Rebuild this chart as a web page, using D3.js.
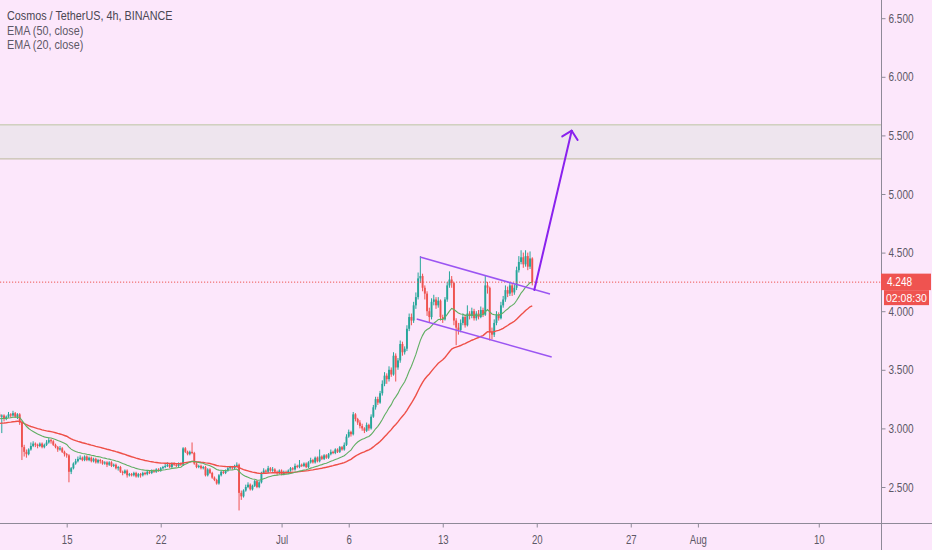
<!DOCTYPE html>
<html><head><meta charset="utf-8">
<script src="https://cdn.jsdelivr.net/npm/d3@7"></script>
<style>
html,body{margin:0;padding:0;background:#fce7fb;overflow:hidden}
svg{display:block}
.lbl{font-family:"Liberation Sans",Arial,sans-serif}
</style></head>
<body>
<script>
// ---------------- DATA ----------------
const title = "Cosmos / TetherUS, 4h, BINANCE";
const legendLabels = ["EMA (50, close)", "EMA (20, close)"];
const firstBarTime = "2020-06-10T00:00:00Z";   // 4h bars
const barHours = 4;
const firstOpen = 3.12;
const closes = [3.10,3.11,3.08,3.10,3.12,3.11,3.13,3.10,3.12,3.05,
2.84,2.80,2.78,2.82,2.85,2.87,2.86,2.85,2.87,2.84,
2.86,2.88,2.90,2.89,2.86,2.84,2.82,2.83,2.80,2.78,
2.77,2.63,2.66,2.70,2.72,2.74,2.75,2.73,2.76,2.73,
2.75,2.72,2.74,2.71,2.73,2.72,2.70,2.71,2.69,2.71,
2.68,2.69,2.66,2.67,2.63,2.62,2.64,2.60,2.61,2.60,
2.62,2.59,2.61,2.60,2.62,2.61,2.63,2.62,2.64,2.63,
2.65,2.64,2.66,2.67,2.68,2.69,2.67,2.70,2.69,2.68,
2.70,2.69,2.83,2.80,2.78,2.80,2.79,2.70,2.67,2.68,
2.66,2.67,2.60,2.65,2.62,2.58,2.56,2.53,2.60,2.63,
2.62,2.64,2.66,2.67,2.66,2.68,2.69,2.45,2.42,2.47,
2.50,2.52,2.48,2.51,2.55,2.50,2.54,2.62,2.64,2.63,
2.66,2.64,2.65,2.63,2.62,2.64,2.61,2.63,2.62,2.64,
2.66,2.65,2.68,2.67,2.69,2.68,2.70,2.67,2.71,2.73,
2.71,2.75,2.72,2.76,2.74,2.77,2.75,2.78,2.80,2.79,
2.82,2.80,2.84,2.82,2.86,2.93,2.97,2.95,3.12,3.08,
3.05,3.02,3.00,2.98,3.03,3.00,3.10,3.18,3.25,3.22,
3.30,3.38,3.45,3.42,3.50,3.46,3.62,3.52,3.58,3.72,
3.65,3.68,3.85,3.95,3.92,4.05,4.12,4.28,4.30,4.20,
4.15,4.00,3.95,4.08,4.10,4.05,4.09,3.95,3.93,4.10,
4.22,4.27,4.24,3.92,3.86,3.84,3.90,3.95,3.88,3.98,
3.96,4.00,3.94,3.98,3.95,4.01,3.97,4.22,4.20,3.82,
3.80,3.90,3.97,3.94,4.05,4.10,4.18,4.15,4.22,4.16,
4.20,4.35,4.42,4.46,4.40,4.47,4.38,4.45,4.248];
const highs = [3.14,3.12,3.12,3.11,3.14,3.13,3.15,3.14,3.13,3.13,
3.06,2.86,2.82,2.83,2.88,2.89,2.88,2.87,2.88,2.88,
2.87,2.90,2.92,2.91,2.90,2.87,2.85,2.85,2.84,2.81,
2.79,2.78,2.67,2.71,2.74,2.76,2.77,2.76,2.77,2.77,
2.76,2.76,2.75,2.75,2.74,2.74,2.73,2.72,2.72,2.72,
2.72,2.70,2.70,2.68,2.68,2.64,2.65,2.65,2.62,2.62,
2.63,2.63,2.62,2.62,2.63,2.63,2.64,2.64,2.65,2.65,
2.66,2.66,2.67,2.68,2.70,2.71,2.70,2.71,2.71,2.70,
2.71,2.71,2.84,2.84,2.81,2.81,2.88,2.80,2.71,2.69,
2.69,2.68,2.68,2.66,2.66,2.63,2.59,2.57,2.61,2.64,
2.64,2.65,2.67,2.68,2.68,2.69,2.71,2.70,2.47,2.48,
2.52,2.54,2.53,2.52,2.56,2.56,2.55,2.63,2.66,2.65,
2.68,2.67,2.67,2.66,2.64,2.65,2.65,2.64,2.64,2.65,
2.67,2.67,2.70,2.69,2.73,2.70,2.71,2.71,2.72,2.75,
2.74,2.76,2.76,2.82,2.77,2.78,2.78,2.79,2.82,2.81,
2.83,2.83,2.85,2.85,2.88,2.95,2.99,2.98,3.14,3.13,
3.09,3.07,3.04,3.01,3.05,3.04,3.12,3.20,3.27,3.27,
3.32,3.41,3.48,3.47,3.53,3.52,3.65,3.64,3.60,3.75,
3.74,3.70,3.88,3.98,3.98,4.08,4.16,4.33,4.47,4.32,
4.22,4.17,4.03,4.11,4.14,4.12,4.12,4.10,3.97,4.12,
4.25,4.34,4.30,4.25,3.94,3.90,3.93,3.98,3.97,4.05,
4.00,4.03,4.02,4.00,4.01,4.04,4.03,4.30,4.25,4.21,
3.86,3.93,4.00,3.99,4.08,4.13,4.22,4.21,4.25,4.24,
4.23,4.38,4.47,4.52,4.50,4.52,4.50,4.51,4.46];
const lows = [3.08,2.96,3.06,3.07,3.09,3.09,3.10,3.09,3.08,3.03,
2.73,2.76,2.75,2.77,2.81,2.84,2.84,2.83,2.84,2.83,
2.83,2.85,2.87,2.87,2.85,2.83,2.80,2.81,2.79,2.76,
2.75,2.54,2.61,2.65,2.69,2.71,2.73,2.72,2.72,2.72,
2.72,2.71,2.71,2.70,2.70,2.70,2.69,2.69,2.67,2.68,
2.67,2.67,2.65,2.64,2.62,2.60,2.61,2.58,2.59,2.59,
2.59,2.58,2.58,2.58,2.59,2.60,2.60,2.61,2.61,2.62,
2.62,2.63,2.63,2.65,2.66,2.67,2.66,2.66,2.68,2.67,
2.67,2.68,2.68,2.79,2.77,2.77,2.78,2.69,2.66,2.66,
2.65,2.65,2.59,2.59,2.61,2.57,2.55,2.52,2.52,2.59,
2.61,2.61,2.63,2.65,2.65,2.65,2.67,2.30,2.39,2.41,
2.46,2.49,2.47,2.47,2.50,2.49,2.49,2.53,2.61,2.62,
2.62,2.63,2.63,2.62,2.60,2.61,2.60,2.60,2.61,2.61,
2.63,2.64,2.64,2.66,2.66,2.67,2.67,2.66,2.66,2.70,
2.70,2.70,2.71,2.71,2.73,2.73,2.74,2.74,2.77,2.78,
2.78,2.79,2.79,2.81,2.81,2.85,2.92,2.93,2.94,3.06,
3.03,3.00,2.98,2.96,2.97,2.98,2.99,3.09,3.16,3.20,
3.21,3.28,3.36,3.38,3.40,3.44,3.45,3.40,3.50,3.56,
3.62,3.63,3.66,3.83,3.88,3.90,4.02,4.10,4.24,4.17,
4.10,3.96,3.90,3.93,4.05,4.02,4.03,3.92,3.90,3.92,
4.08,4.20,4.20,3.88,3.71,3.80,3.82,3.88,3.86,3.87,
3.93,3.94,3.92,3.92,3.93,3.94,3.95,3.96,4.15,3.75,
3.76,3.78,3.88,3.92,3.93,4.03,4.08,4.12,4.13,4.13,
4.14,4.18,4.33,4.40,4.37,4.38,4.35,4.36,4.22];
const emaSeeds = {50: 3.04, 20: 3.08};
const priceTicks = [2.5,3.0,3.5,4.0,4.5,5.0,5.5,6.0,6.5];
const dateTicks = ["2020-06-15","2020-06-22","2020-07-01","2020-07-06","2020-07-13","2020-07-20","2020-07-27","2020-08-01","2020-08-10"];
const dateTickLabels = ["15","22","Jul","6","13","20","27","Aug","10"];
const timeDomain = ["2020-06-10T00:48:00Z","2020-08-14T15:12:00Z"];
const priceDomain = [2.5, 6.5];
const zonePrices = [5.30, 5.59];
const channelUpper = [["2020-07-11T07:22:00Z",4.462],["2020-07-20T23:41:00Z",4.147]];
const channelLower = [["2020-07-11T01:28:00Z",3.933],["2020-07-21T02:43:00Z",3.609]];
const arrowPts = [["2020-07-19T19:38:00Z",4.181],["2020-07-22T14:27:00Z",5.540]];
const lastPrice = 4.248;
const countdown = "02:08:30";

// ---------------- CHART ----------------
const W = 932, H = 550, plotR = 881, plotB = 523;
const svg = d3.select("body").append("svg").attr("width",W).attr("height",H);
svg.append("rect").attr("width",W).attr("height",H).attr("fill","#fce7fb");

const x = d3.scaleUtc().domain(timeDomain.map(d=>new Date(d))).range([0, plotR]);
const y = d3.scaleLinear().domain(priceDomain).range([487, 18.2]);

const t0 = new Date(firstBarTime).getTime();
const bars = closes.map((c,i)=>({
  t: new Date(t0 + i*barHours*3600e3),
  o: i===0 ? firstOpen : closes[i-1], c, h: highs[i], l: lows[i]
}));

function ema(vals, p, seed){ const k = 2/(p+1); let prev = seed; return vals.map(v => prev = v*k + prev*(1-k)); }
const ema50 = ema(closes, 50, emaSeeds[50]);
const ema20 = ema(closes, 20, emaSeeds[20]);

// horizontal condensing of text (reference font is narrow)
function squeeze(sel, f){ sel.each(function(){ const L = this.getComputedTextLength(); if (L>0){ this.setAttribute("textLength", (L*f).toFixed(2)); this.setAttribute("lengthAdjust","spacingAndGlyphs"); } }); }

svg.append("clipPath").attr("id","plot").append("rect").attr("x",0).attr("y",0).attr("width",plotR).attr("height",plotB);
const g = svg.append("g").attr("clip-path","url(#plot)");

// zone
g.append("rect").attr("x",0).attr("width",plotR)
  .attr("y", y(zonePrices[1])).attr("height", y(zonePrices[0]) - y(zonePrices[1]))
  .attr("fill","#eee5ee").attr("stroke","none");
g.append("line").attr("x1",0).attr("x2",plotR).attr("y1",y(zonePrices[1])).attr("y2",y(zonePrices[1]))
  .attr("stroke","#bcc6a2").attr("stroke-width",1);
g.append("line").attr("x1",0).attr("x2",plotR).attr("y1",y(zonePrices[0])).attr("y2",y(zonePrices[0]))
  .attr("stroke","#c6c1ad").attr("stroke-width",1.2);

// candles
const up = "#26a69a", dn = "#ef5350";
const cg = g.append("g");
cg.selectAll("line.w").data(bars).join("line").attr("class","w")
  .attr("x1",d=>x(d.t)).attr("x2",d=>x(d.t)).attr("y1",d=>y(d.h)).attr("y2",d=>y(d.l))
  .attr("stroke",d=>d.c>=d.o?up:dn).attr("stroke-width",1);
cg.selectAll("rect.b").data(bars).join("rect").attr("class","b")
  .attr("x",d=>x(d.t)-0.95).attr("width",1.9)
  .attr("y",d=>y(Math.max(d.o,d.c))).attr("height",d=>Math.max(1, Math.abs(y(d.o)-y(d.c))))
  .attr("fill",d=>d.c>=d.o?up:dn);

// EMAs
const lineGen = arr => d3.line().x((d,i)=>x(bars[i].t)).y(d=>y(d))(arr);
g.append("path").attr("d",lineGen(ema50)).attr("fill","none").attr("stroke","#ee4f47").attr("stroke-width",1.4);
g.append("path").attr("d",lineGen(ema20)).attr("fill","none").attr("stroke","#5fae62").attr("stroke-width",1.1);

// current price line
g.append("line").attr("x1",0).attr("x2",plotR).attr("y1",y(lastPrice)).attr("y2",y(lastPrice))
  .attr("stroke","#ef5350").attr("stroke-width",1).attr("stroke-dasharray","1.2,1.8");

// channel
const pt = d => [x(new Date(d[0])), y(d[1])];
[channelUpper, channelLower].forEach(seg=>{
  const a = pt(seg[0]), b = pt(seg[1]);
  g.append("line").attr("x1",a[0]).attr("y1",a[1]).attr("x2",b[0]).attr("y2",b[1])
    .attr("stroke","#9b55f2").attr("stroke-width",1.5);
});
// arrow
{
  const a = pt(arrowPts[0]), b = pt(arrowPts[1]);
  const col = "#8a22ee";
  g.append("line").attr("x1",a[0]).attr("y1",a[1]).attr("x2",b[0]).attr("y2",b[1])
    .attr("stroke",col).attr("stroke-width",2).attr("stroke-linecap","round");
  const ang = Math.atan2(a[1]-b[1], a[0]-b[0]);
  [-0.8, 0.8].forEach(da=>{
    g.append("line").attr("x1",b[0]).attr("y1",b[1])
      .attr("x2",b[0]+11*Math.cos(ang+da)).attr("y2",b[1]+11*Math.sin(ang+da))
      .attr("stroke",col).attr("stroke-width",2).attr("stroke-linecap","round");
  });
}

// axes frame
const axisCol = "#8e8a98", textCol = "#5d5866";
svg.append("line").attr("x1",plotR+0.5).attr("x2",plotR+0.5).attr("y1",0).attr("y2",H).attr("stroke",axisCol).attr("stroke-width",1);
svg.append("line").attr("x1",0).attr("x2",W).attr("y1",plotB+0.5).attr("y2",plotB+0.5).attr("stroke",axisCol).attr("stroke-width",1);

const yAxis = svg.append("g").attr("transform",`translate(${plotR+0.5},0)`)
  .call(d3.axisRight(y).tickValues(priceTicks).tickFormat(d3.format(".3f")).tickSize(4).tickPadding(3));
const xAxis = svg.append("g").attr("transform",`translate(0,${plotB+0.5})`)
  .call(d3.axisBottom(x).tickValues(dateTicks.map(d=>new Date(d+"T00:00:00Z")))
    .tickFormat((d,i)=>dateTickLabels[i]).tickSize(4).tickPadding(8));
[yAxis,xAxis].forEach(a=>{
  a.select(".domain").remove();
  a.attr("font-family",null).attr("font-size",null);
  a.selectAll("line").attr("stroke",axisCol);
  a.selectAll("text").attr("class","lbl").attr("fill",textCol);
});
yAxis.selectAll("text").attr("font-size",12.5);
xAxis.selectAll("text").attr("font-size",12);
squeeze(yAxis.selectAll("text"), 0.8);
squeeze(xAxis.selectAll("text"), 0.8);

// last price labels
svg.append("rect").attr("x",plotR).attr("y",y(lastPrice)-8.5).attr("width",50).attr("height",16.5).attr("fill","#ef5350");
const lp = svg.append("text").attr("class","lbl").attr("x",plotR+6).attr("y",y(lastPrice)+4.3).attr("fill","#fff").attr("font-size",12.5).text(lastPrice.toFixed(3));
svg.append("rect").attr("x",plotR+3).attr("y",y(lastPrice)+8).attr("width",45).attr("height",15).attr("fill","#ef5350");
svg.append("text").attr("class","lbl").attr("x",plotR+5).attr("y",y(lastPrice)+19.5).attr("fill","#fff").attr("font-size",10.5).text(countdown);
squeeze(lp, 0.8);

// legend
const tt = svg.append("text").attr("class","lbl").attr("x",7).attr("y",20).attr("fill","#4a4652").attr("font-size",13.5).text(title);
squeeze(tt, 0.8);
legendLabels.forEach((t,i)=>{
  const e = svg.append("text").attr("class","lbl").attr("x",7).attr("y",34.5+i*14.5).attr("fill","#5d5866").attr("font-size",13.5).text(t);
  squeeze(e, 0.8);
});
</script>
</body></html>
